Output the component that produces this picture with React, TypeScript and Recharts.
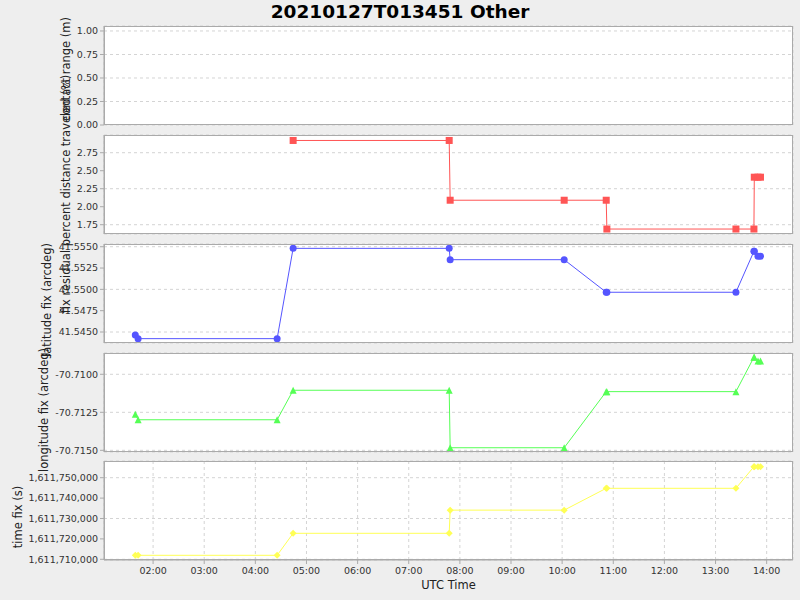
import React from 'react';
import { LineChart, Line, XAxis, YAxis, CartesianGrid } from 'recharts';

// record times, decimal hours UTC on 2021-01-27
const times = [1.652, 1.707, 4.426, 4.739, 7.791, 7.81, 10.04, 10.862, 10.875, 13.399, 13.751, 13.758, 13.83, 13.879];

// percent distance traveled (%)
const travelPct = [null, null, null, 2.92, 2.92, 2.09, 2.09, 2.09, 1.69, 1.69, 1.69, 2.41, 2.41, 2.41];
// latitude fix (arcdeg)
const latFix = [41.54465, 41.54422, 41.54422, 41.55481, 41.55481, 41.55348, 41.55348, 41.54966, 41.54966, 41.54966, 41.55446, 41.55446, 41.55387, 41.55387];
// longitude fix (arcdeg)
const lonFix = [-70.71263, -70.71299, -70.71299, -70.71105, -70.71105, -70.71483, -70.71483, -70.71114, -70.71114, -70.71114, -70.70888, -70.70888, -70.70913, -70.70913];
// time fix (s)
const timeFix = [1611711961, 1611711961, 1611711961, 1611722745, 1611722745, 1611734100, 1611734100, 1611744804, 1611744804, 1611744804, 1611755392, 1611755392, 1611755392, 1611755392];

const hourTicks = [2, 3, 4, 5, 6, 7, 8, 9, 10, 11, 12, 13, 14];
const rangeTicks = [0, 0.25, 0.5, 0.75, 1];
const travelTicks = [1.75, 2, 2.25, 2.5, 2.75];
const latTicks = [41.545, 41.5475, 41.55, 41.5525, 41.555];
const lonTicks = [-70.715, -70.7125, -70.71];
const timeFixTicks = [1611710000, 1611720000, 1611730000, 1611740000, 1611750000];

const title = '20210127T013451 Other';
const xLabel = 'UTC Time';

const rows = times.map((t, i) => ({
    t,
    travel: travelPct[i],
    lat: latFix[i],
    lon: lonFix[i],
    tfix: timeFix[i],
}));

const FONT = '"DejaVu Sans", sans-serif';
const PLOT_LEFT = 104;
const PLOT_W = 689;
const PLOT_H = 99;
const X_DOMAIN = [1.04, 14.515];
const GRID = '#d4d4d4';
const AXIS = '#aaaaaa';

type Shape = 'square' | 'circle' | 'triangle' | 'diamond';

const makeDot = (shape: Shape, color: string) => (props: any) => {
    const { cx, cy, index } = props;
    if (cy == null || cx == null || isNaN(cy)) return <g key={'d' + index} />;
    const r = 3.5;
    if (shape === 'square') {
        return <rect key={'d' + index} x={cx - r} y={cy - r} width={2 * r} height={2 * r} fill={color} />;
    }
    if (shape === 'circle') {
        return <circle key={'d' + index} cx={cx} cy={cy} r={r} fill={color} />;
    }
    if (shape === 'triangle') {
        return <polygon key={'d' + index} points={`${cx},${cy - r} ${cx + r},${cy + r} ${cx - r},${cy + r}`} fill={color} />;
    }
    return <polygon key={'d' + index} points={`${cx},${cy - r} ${cx + r},${cy} ${cx},${cy + r} ${cx - r},${cy}`} fill={color} />;
};

const fmtHour = (h: number) => String(h).padStart(2, '0') + ':00';

interface PanelProps {
    top: number;
    domain: number[];
    ticks: number[];
    fmt: (v: number) => string;
    dataKey?: string;
    color?: string;
    shape?: Shape;
    bottom?: boolean;
}

function Panel({ top, domain, ticks, fmt, dataKey, color, shape, bottom }: PanelProps) {
    const pad = 8;
    const xh = bottom ? 30 : 0;
    return (
        <>
            <div style={{ position: 'absolute', left: 0, top: top - pad }}>
                <LineChart
                    width={800}
                    height={PLOT_H + pad * 2 + xh}
                    data={rows}
                    margin={{ top: pad, right: 800 - PLOT_LEFT - PLOT_W, bottom: pad, left: 0 }}
                >
                    <CartesianGrid stroke={GRID} strokeDasharray="3 3" fill="#ffffff" />
                    <XAxis
                        dataKey="t"
                        type="number"
                        domain={X_DOMAIN}
                        ticks={hourTicks}
                        allowDataOverflow
                        height={xh}
                        tick={bottom ? { fill: '#333', fontSize: 9.5, fontFamily: FONT } : false}
                        tickFormatter={fmtHour}
                        tickSize={bottom ? 4 : 0}
                        tickMargin={3}
                        axisLine={bottom ? { stroke: AXIS } : false}
                        tickLine={bottom ? { stroke: AXIS } : false}
                    />
                    <YAxis
                        type="number"
                        width={PLOT_LEFT}
                        domain={domain}
                        ticks={ticks}
                        allowDataOverflow
                        tickFormatter={fmt}
                        tick={{ fill: '#333', fontSize: 9.5, fontFamily: FONT }}
                        tickSize={4}
                        tickMargin={2}
                        axisLine={{ stroke: AXIS }}
                        tickLine={{ stroke: AXIS }}
                    />
                    {dataKey && (
                        <Line
                            type="linear"
                            dataKey={dataKey}
                            stroke={color}
                            strokeWidth={1}
                            dot={makeDot(shape as Shape, color as string)}
                            activeDot={false}
                            isAnimationActive={false}
                        />
                    )}
                </LineChart>
            </div>
            <div
                style={{
                    position: 'absolute',
                    left: PLOT_LEFT,
                    top,
                    width: PLOT_W,
                    height: PLOT_H,
                    boxSizing: 'border-box',
                    border: `1px solid ${AXIS}`,
                    pointerEvents: 'none',
                }}
            />
        </>
    );
}

const RotLabel = ({ text, cx, cy }: { text: string; cx: number; cy: number }) => (
    <div
        style={{
            position: 'absolute',
            left: cx,
            top: cy,
            transform: 'translate(-50%, -50%) rotate(-90deg)',
            whiteSpace: 'nowrap',
            fontSize: 11.5,
            lineHeight: '14px',
            color: '#222',
        }}
    >
        {text}
    </div>
);

export default function App() {
    return (
        <div
            style={{
                position: 'absolute',
                left: 0,
                top: 0,
                width: 800,
                height: 600,
                background: '#eeeeee',
                fontFamily: FONT,
                overflow: 'hidden',
            }}
        >
            <div
                style={{
                    position: 'absolute',
                    left: 0,
                    top: 0,
                    width: 800,
                    height: 24,
                    lineHeight: '24px',
                    textAlign: 'center',
                    fontWeight: 'bold',
                    fontSize: 18.5,
                    color: '#000',
                }}
            >
                {title}
            </div>

            <Panel top={26} domain={[0, 1.053]} ticks={rangeTicks} fmt={(v) => v.toFixed(2)} />
            <Panel top={135} domain={[1.621, 2.996]} ticks={travelTicks} fmt={(v) => v.toFixed(2)}
                dataKey="travel" color="#ff5555" shape="square" />
            <Panel top={244} domain={[41.54371, 41.55532]} ticks={latTicks} fmt={(v) => v.toFixed(4)}
                dataKey="lat" color="#5555ff" shape="circle" />
            <Panel top={353} domain={[-70.71511, -70.7086]} ticks={lonTicks} fmt={(v) => v.toFixed(4)}
                dataKey="lon" color="#55ff55" shape="triangle" />
            <Panel top={461} domain={[1611709657, 1611758186]} ticks={timeFixTicks}
                fmt={(v) => v.toLocaleString('en-US')} dataKey="tfix" color="#ffff55" shape="diamond" bottom />

            <RotLabel text="contact range (m)" cx={66} cy={69} />
            <RotLabel text="fix residual percent distance traveled (%)" cx={66} cy={194} />
            <RotLabel text="latitude fix (arcdeg)" cx={47} cy={300} />
            <RotLabel text="longitude fix (arcdeg)" cx={44} cy={410} />
            <RotLabel text="time fix (s)" cx={18} cy={517} />

            <div
                style={{
                    position: 'absolute',
                    left: PLOT_LEFT,
                    top: 577,
                    width: PLOT_W,
                    textAlign: 'center',
                    fontSize: 11.5,
                    lineHeight: '16px',
                    color: '#222',
                }}
            >
                {xLabel}
            </div>
        </div>
    );
}
